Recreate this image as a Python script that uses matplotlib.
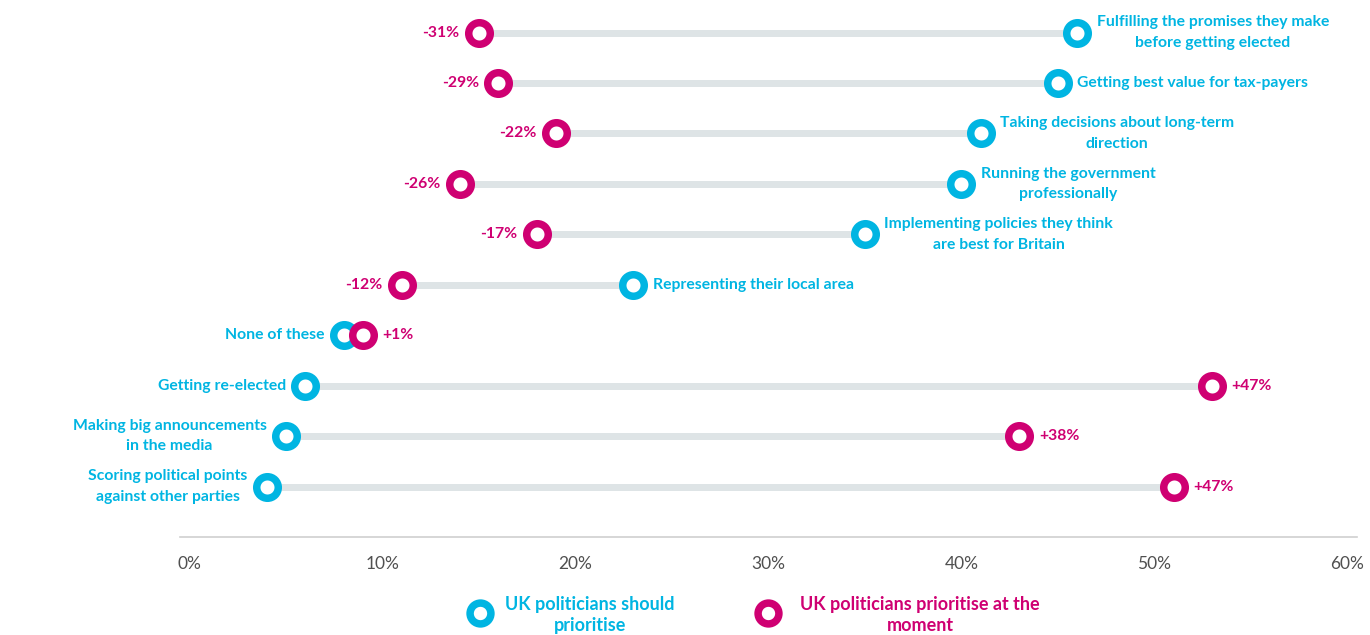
import matplotlib.pyplot as plt
from matplotlib.lines import Line2D

categories = [
    "Fulfilling the promises they make\nbefore getting elected",
    "Getting best value for tax-payers",
    "Taking decisions about long-term\ndirection",
    "Running the government\nprofessionally",
    "Implementing policies they think\nare best for Britain",
    "Representing their local area",
    "None of these",
    "Getting re-elected",
    "Making big announcements\nin the media",
    "Scoring political points\nagainst other parties",
]
should = [46, 45, 41, 40, 35, 23, 8, 6, 5, 4]
now = [15, 16, 19, 14, 18, 11, 9, 53, 43, 51]
diff_labels = ["-31%", "-29%", "-22%", "-26%", "-17%", "-12%", "+1%", "+47%", "+38%", "+47%"]
xticks = [0, 10, 20, 30, 40, 50, 60]
legend_labels = ["UK politicians should\nprioritise", "UK politicians prioritise at the\nmoment"]

CYAN = "#00B5E2"
MAGENTA = "#CF0072"
BAR = "#DEE4E6"
FONT = "Lato"

fig = plt.figure(figsize=(13.7, 6.35), dpi=100)
ax = fig.add_axes([180 / 1370, 1 - 537 / 635, 1177 / 1370, 534.7 / 635])

n = len(categories)
ys = list(range(n - 1, -1, -1))

for y, s, m in zip(ys, should, now):
    ax.plot([s, m], [y, y], color=BAR, lw=5, solid_capstyle="butt", zorder=1)

ring = dict(marker="o", ms=15.5, mew=5.4, mfc="white", ls="none")
ax.plot(should, ys, mec=CYAN, zorder=3, **ring)
ax.plot(now, ys, mec=MAGENTA, zorder=4, **ring)

off = 14
for y, s, m, cat, d in zip(ys, should, now, categories, diff_labels):
    sign = 1 if s > m else -1
    ax.annotate(cat, (s, y), xytext=(sign * off, 0), textcoords="offset points",
                ha="left" if sign > 0 else "right", va="center",
                multialignment="center", color=CYAN, fontsize=11.3,
                fontweight="bold", family=FONT, linespacing=1.6)
    ax.annotate(d, (m, y), xytext=(-sign * off, 0), textcoords="offset points",
                ha="right" if sign > 0 else "left", va="center", color=MAGENTA,
                fontsize=11.3, fontweight="bold", family=FONT)

ax.set_xlim(-0.5, 60.5)
ax.set_ylim(-1, 9.6)
ax.set_xticks(xticks)
ax.set_xticklabels([f"{t}%" for t in xticks], color="#505050", fontsize=12.5, family=FONT)
ax.tick_params(axis="x", length=0, pad=14)
ax.set_yticks([])
for side in ["top", "left", "right"]:
    ax.spines[side].set_visible(False)
ax.spines["bottom"].set_color("#D0D0D0")
ax.spines["bottom"].set_linewidth(1.2)

# legend
for xp, tx, col, lab in zip([480, 768], [590, 920], [CYAN, MAGENTA], legend_labels):
    fig.add_artist(Line2D([xp / 1370], [1 - 613 / 635], transform=fig.transFigure,
                          marker="o", ms=15, mew=5.4, mfc="white", mec=col, ls="none"))
    fig.text(tx / 1370, 1 - 615 / 635, lab,
             ha="center", va="center", multialignment="center", color=col,
             fontsize=13, fontweight="bold", family=FONT, linespacing=1.3)

fig.savefig("out.png", dpi=100)
